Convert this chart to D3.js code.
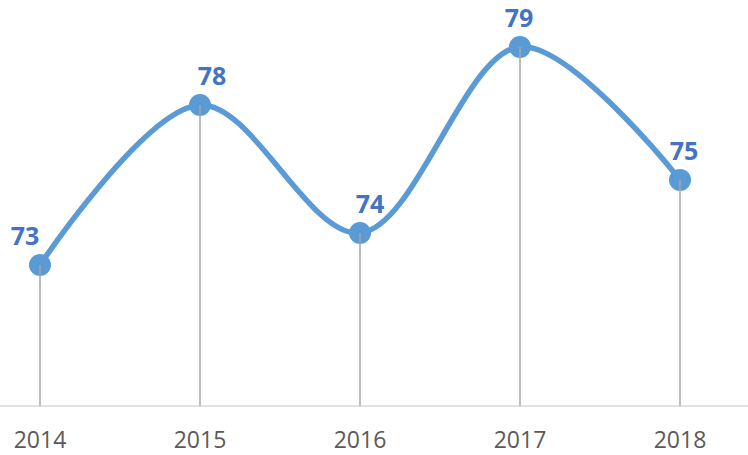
<!DOCTYPE html>
<html>
<head>
<meta charset="utf-8">
<script src="https://cdn.jsdelivr.net/npm/d3@7"></script>
<style>
  body { margin: 0; background: #fff; }
  svg { display: block; }
</style>
</head>
<body>
<div id="chart"></div>
<script>
const years = ['2014', '2015', '2016', '2017', '2018']
// values (labels are rounded)
const values = [72.8, 77.65, 73.77, 79.41, 75.38]
const labels = ['73', '78', '74', '79', '75']
const labelShift = [-15, 12, 10, -1, 4]

const width = 748
const height = 455
const baseY = 406

const svg = d3.select('#chart').append('svg')
  .attr('width', width)
  .attr('height', height)

const x = d3.scalePoint()
  .domain(years)
  .range([40, 680])

const y = d3.scaleLinear()
  .domain([68.53, 80.8])
  .range([baseY, 1])

// baseline
svg.append('line')
  .attr('x1', 0).attr('x2', width)
  .attr('y1', baseY).attr('y2', baseY)
  .attr('stroke', '#d9d9d9')
  .attr('stroke-width', 1.5)

const pts = years.map((yr, i) => ({ yr, v: values[i], lab: labels[i], dx: labelShift[i] }))

const line = d3.line()
  .x(d => x(d.yr))
  .y(d => y(d.v))
  .curve(d3.curveCatmullRom.alpha(0.5))

svg.append('path')
  .datum(pts)
  .attr('d', line)
  .attr('fill', 'none')
  .attr('stroke', '#5b9bd5')
  .attr('stroke-width', 5.5)
  .attr('stroke-linecap', 'round')

svg.selectAll('.dot')
  .data(pts)
  .enter().append('circle')
    .attr('class', 'dot')
    .attr('cx', d => x(d.yr))
    .attr('cy', d => y(d.v))
    .attr('r', 11)
    .attr('fill', '#5b9bd5')

// drop lines from each point to the baseline
svg.selectAll('.drop')
  .data(pts)
  .enter().append('line')
    .attr('class', 'drop')
    .attr('x1', d => x(d.yr)).attr('x2', d => x(d.yr))
    .attr('y1', d => y(d.v)).attr('y2', baseY)
    .attr('stroke', '#a6a6a6')
    .attr('stroke-width', 1.5)

svg.selectAll('.lab')
  .data(pts)
  .enter().append('text')
    .attr('class', 'lab')
    .attr('x', d => x(d.yr) + d.dx)
    .attr('y', d => y(d.v) - 30)
    .attr('text-anchor', 'middle')
    .attr('dominant-baseline', 'central')
    .attr('font-family', '"Open Sans", sans-serif')
    .attr('font-weight', 'bold')
    .attr('font-size', 25)
    .attr('fill', '#4472c4')
    .text(d => d.lab)

svg.selectAll('.yr')
  .data(years)
  .enter().append('text')
    .attr('class', 'yr')
    .attr('x', d => x(d))
    .attr('y', 448)
    .attr('text-anchor', 'middle')
    .attr('font-family', '"Open Sans", sans-serif')
    .attr('font-size', 23)
    .attr('fill', '#595959')
    .text(d => d)
</script>
</body>
</html>
